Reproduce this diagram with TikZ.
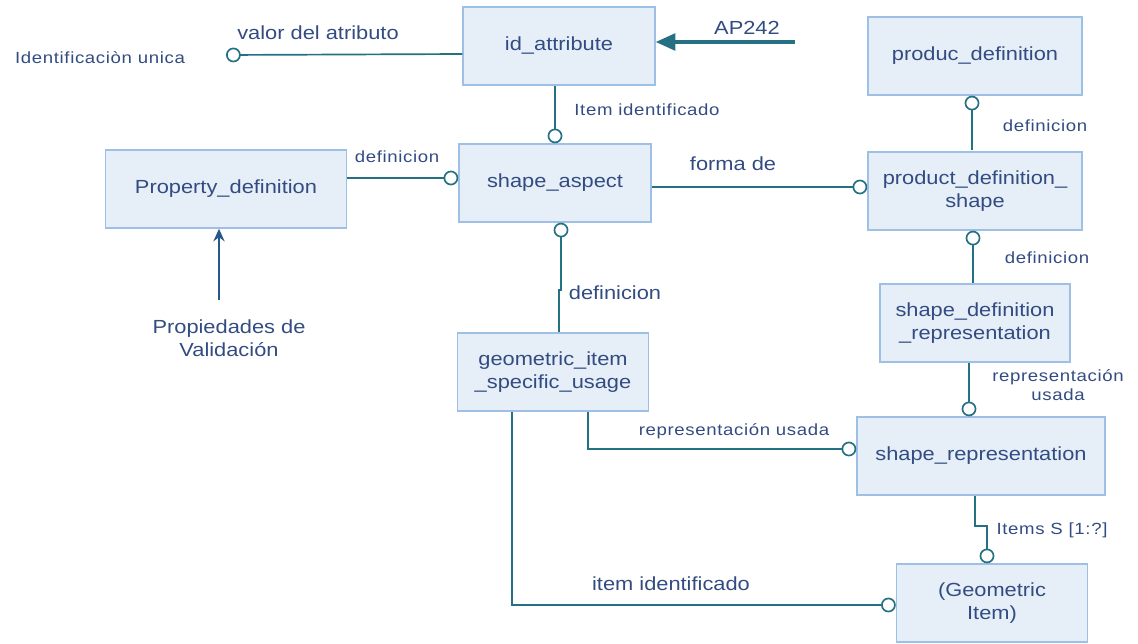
\documentclass[tikz,border=0pt]{standalone}
\usepackage{fontspec}
\setmainfont[FakeStretch=1.15]{Liberation Sans}
\usetikzlibrary{arrows.meta}

\definecolor{boxfill}{RGB}{230,238,248}
\definecolor{boxline}{RGB}{158,192,228}
\definecolor{linkteal}{RGB}{38,112,132}
\definecolor{inkblue}{RGB}{50,76,130}
\definecolor{arrowblue}{RGB}{40,88,138}

\begin{document}
\begin{tikzpicture}[
        x = 0.025cm, y = -0.025cm, % one unit is one pixel of the sketch
        font = \fontsize{13.5}{16}\selectfont, % entity text
        text = inkblue,
        align = center,
        semithick % line style
      ]

      \tikzstyle{entity}=[rectangle, draw=boxline, fill=boxfill, line width=1pt, minimum height=1.95cm]
      \tikzstyle{role}=[font=\fontsize{11.5}{14}\selectfont\addfontfeature{LetterSpace=4}]
      \tikzstyle{link}=[draw=linkteal, line width=1.2pt]
      \tikzstyle{opt}=[-{Circle[open,length=10.5pt,width=10.5pt]}]

      \useasboundingbox (0,0) rectangle (1138,644);

      % entities
      \node[entity, minimum width=4.8cm] (ida) at (559,46) {id\_attribute};
      \node[entity, minimum width=4.8cm] (sa) at (555,183) {shape\_aspect};
      \node[entity, minimum width=6.025cm] (pd) at (226,189) {Property\_definition};
      \node[entity, minimum width=5.35cm] (pdef) at (975,56) {produc\_definition};
      \node[entity, minimum width=5.35cm] (pds) at (975,191) {product\_definition\_\\shape};
      \node[entity, minimum width=4.75cm] (sdr) at (975,323) {shape\_definition\\\_representation};
      \node[entity, minimum width=4.775cm] (gisu) at (553,372) {geometric\_item\\\_specific\_usage};
      \node[entity, minimum width=6.2cm] (sr) at (981,456) {shape\_representation};
      \node[entity, minimum width=4.775cm] (gi) at (992,603) {(Geometric\\Item)};

      % free ends
      \coordinate (uniq) at (226,55);
      \coordinate (ap) at (795,42);
      \coordinate (val) at (219,300);

      % connectors
      \draw[link, opt] (ida.west |- 0,54) -- (uniq);
      \draw[link, line width=2.2pt, -{Triangle[length=14pt,width=12pt]}] (ap) -- (ida.east |- ap);
      \draw[link, opt] (sa.north |- ida.south) -- (sa.north);
      \draw[link, opt] (pd.east |- 0,178) -- (sa.west |- 0,178);
      \draw[link, opt] (sa.east |- 0,187) -- (pds.west |- 0,187);
      \draw[link, opt] (972,150) -- (pdef.south -| 972,0);
      \draw[link, opt] (973,283) -- (pds.south -| 973,0);
      \draw[link, opt] (sdr.south -| 969,0) -- (sr.north -| 969,0);
      \draw[draw=arrowblue, line width=1.2pt, -{Stealth[length=9pt,width=8pt]}] (val) -- (pd.south -| val);
      \draw[link, opt] (gisu.north -| 559,0) -- (559,290) -- (561,290) -- (sa.south -| 561,0);
      \draw[link, opt] (gisu.south -| 588,0) -- (588,449) -- (sr.west |- 0,449);
      \draw[link, opt] (gisu.south -| 512,0) -- (512,605) -- (gi.west |- 0,605);
      \draw[link, opt] (sr.south -| 975,0) -- (975,526) -- (987,526) -- (gi.north -| 987,0);

      % labels
      \node (lvalor) at (318,33) {valor del atributo};
      \node[role] (luniq) at (100,58) {Identificaciòn unica};
      \node (lap) at (747,28) {AP242};
      \node[role] (lident) at (647,110) {Item identificado};
      \node[role] (ldef1) at (397,157) {definicion};
      \node (lforma) at (733,164) {forma de};
      \node[role] (ldef2) at (1045,126) {definicion};
      \node[role] (ldef3) at (1047,258) {definicion};
      \node[role] (lrep1) at (1058,385) {representación\\usada};
      \node (lval) at (229,338) {Propiedades de\\Validación};
      \node (ldef4) at (615,293) {definicion};
      \node[role] (lrep2) at (734,431) {representación usada};
      \node (litem) at (671,584) {item identificado};
      \node[role] (litems) at (1052,530) {Items S [1:?]};

    \end{tikzpicture}
\end{document}
